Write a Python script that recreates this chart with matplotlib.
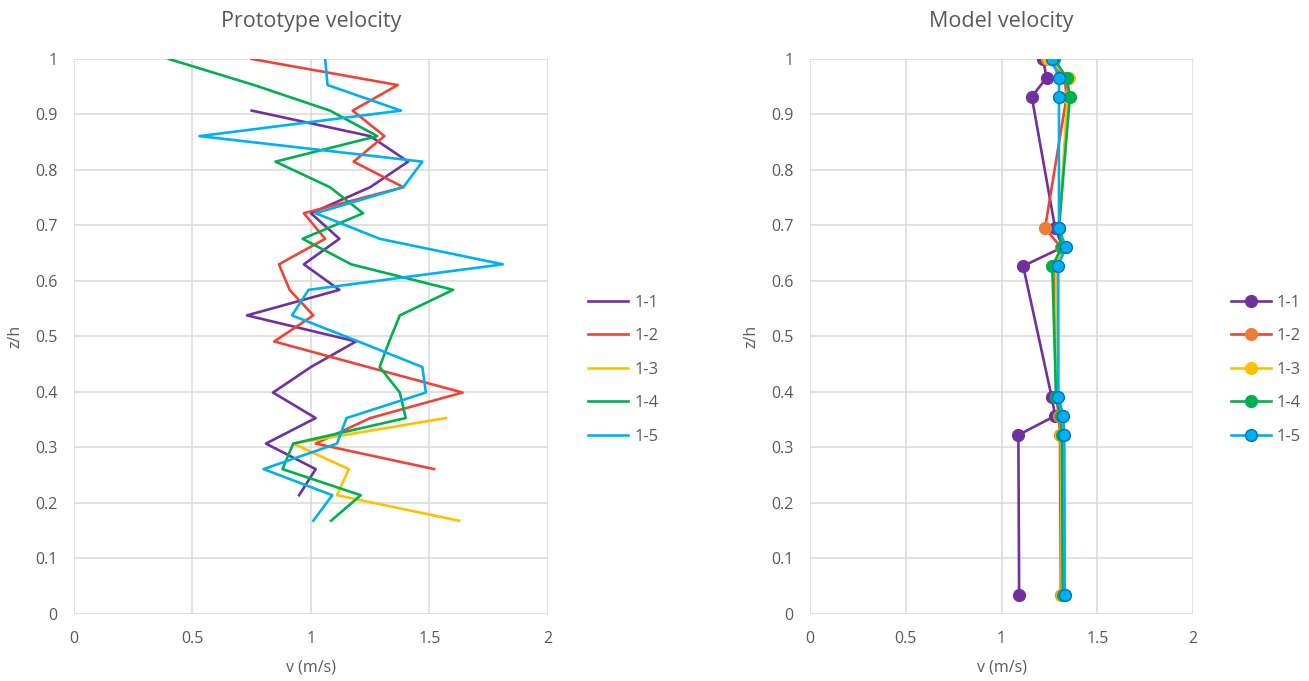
import numpy as np
import matplotlib
matplotlib.use("Agg")
import matplotlib.pyplot as plt

plt.rcParams['font.family'] = ['Open Sans', 'DejaVu Sans']

# prototype profiles, depth levels shared by all runs (nan = no reading)
z_proto = [1.0, 0.953, 0.907, 0.861, 0.815, 0.769, 0.722, 0.676, 0.630, 0.584,
           0.538, 0.491, 0.445, 0.399, 0.353, 0.307, 0.261, 0.214, 0.168]
nan = np.nan
v_p11 = [nan, nan, 0.75, 1.25, 1.41, 1.25, 1.00, 1.12, 0.97, 1.12,
         0.73, 1.19, 1.00, 0.84, 1.02, 0.81, 1.02, 0.95, nan]
v_p12 = [0.75, 1.366, 1.176, 1.31, 1.18, 1.39, 0.97, 1.06, 0.865, 0.91,
         1.01, 0.845, 1.24, 1.64, 1.25, 1.02, 1.52, nan, nan]
v_p13 = [nan, nan, nan, nan, nan, nan, nan, nan, nan, nan,
         nan, nan, nan, nan, 1.57, 0.925, 1.16, 1.11, 1.625]
v_p14 = [0.40, 0.76, 1.08, 1.28, 0.85, 1.08, 1.22, 0.965, 1.17, 1.60,
         1.375, 1.33, 1.29, 1.375, 1.40, 0.925, 0.88, 1.21, 1.085]
v_p15 = [1.06, 1.07, 1.38, 0.53, 1.47, 1.39, 1.02, 1.29, 1.81, 0.99,
         0.92, 1.20, 1.47, 1.485, 1.15, 1.11, 0.80, 1.09, 1.01]

# model profiles
z_model = [1.0, 0.966, 0.932, 0.695, 0.661, 0.627, 0.391, 0.357, 0.3225, 0.034]
v_m11 = [1.217, 1.235, 1.158, 1.28, 1.32, 1.113, 1.262, 1.28, 1.088, 1.092]
v_m12 = [1.236, 1.33, 1.34, 1.227, 1.31, 1.28, 1.285, 1.30, 1.305, 1.31]
v_m13 = [1.25, 1.35, 1.345, 1.30, 1.32, 1.285, 1.29, 1.31, 1.31, 1.315]
v_m14 = [1.275, 1.34, 1.357, 1.30, 1.315, 1.265, 1.285, 1.31, 1.315, 1.32]
v_m15 = [1.262, 1.30, 1.30, 1.30, 1.335, 1.296, 1.297, 1.323, 1.328, 1.33]

labels = ['1-1', '1-2', '1-3', '1-4', '1-5']
line_cols = ['#7030A0', '#EE4437', '#FFC000', '#00B050', '#00B0F0']
mark_cols = ['#7030A0', '#ED7D31', '#FFC000', '#00B050', '#00B0F0']
mark_edge = ['#7030A0', '#ED7D31', '#FFC000', '#00B050', '#0070C0']

txt = '#595959'
grid = '#D9D9D9'

fig = plt.figure(figsize=(13.09, 6.81), dpi=100)
ax1 = fig.add_axes([0.0565, 0.0984, 0.3621, 0.815])
ax2 = fig.add_axes([0.6188, 0.0984, 0.2926, 0.815])


def style(ax, title):
    ax.set_xlim(0, 2)
    ax.set_ylim(0, 1)
    ax.set_xticks([0, 0.5, 1, 1.5, 2])
    ax.set_xticklabels(['0', '0.5', '1', '1.5', '2'])
    ax.set_yticks(np.arange(0, 1.01, 0.1))
    ax.set_yticklabels(['0'] + ['%.1f' % t for t in np.arange(0.1, 0.95, 0.1)] + ['1'])
    ax.grid(True, color=grid, lw=1.1)
    ax.set_axisbelow(True)
    for s in ax.spines.values():
        s.set_visible(False)
    ax.tick_params(length=0, labelsize=11.5, colors=txt, pad=12)
    ax.set_title(title, fontsize=15.5, color=txt, pad=23)
    ax.set_xlabel('v (m/s)', fontsize=11.5, color=txt, labelpad=9)
    ax.set_ylabel('z/h', fontsize=11.5, color=txt, labelpad=8)


style(ax1, 'Prototype velocity')
for v, lab, c in zip([v_p11, v_p12, v_p13, v_p14, v_p15], labels, line_cols):
    v = np.array(v)
    ok = ~np.isnan(v)
    ax1.plot(v[ok], np.array(z_proto)[ok], color=c, lw=1.9, label=lab)
ax1.legend(loc='center left', bbox_to_anchor=(0.438, 0.457), bbox_transform=fig.transFigure,
           frameon=False, fontsize=12, labelcolor=txt, handlelength=2.4,
           handletextpad=0.4, labelspacing=1.05)

style(ax2, 'Model velocity')
for v, lab, c, mc, me in zip([v_m11, v_m12, v_m13, v_m14, v_m15], labels,
                             line_cols, mark_cols, mark_edge):
    ax2.plot(v, z_model, color=c, lw=1.9, marker='o', ms=8.5, mfc=mc, mec=me,
             mew=1.0, label=lab)
ax2.legend(loc='center left', bbox_to_anchor=(0.929, 0.457), bbox_transform=fig.transFigure,
           frameon=False, fontsize=12, labelcolor=txt, handlelength=2.4,
           handletextpad=0.3, labelspacing=1.05)

fig.savefig('out.png', dpi=100)
